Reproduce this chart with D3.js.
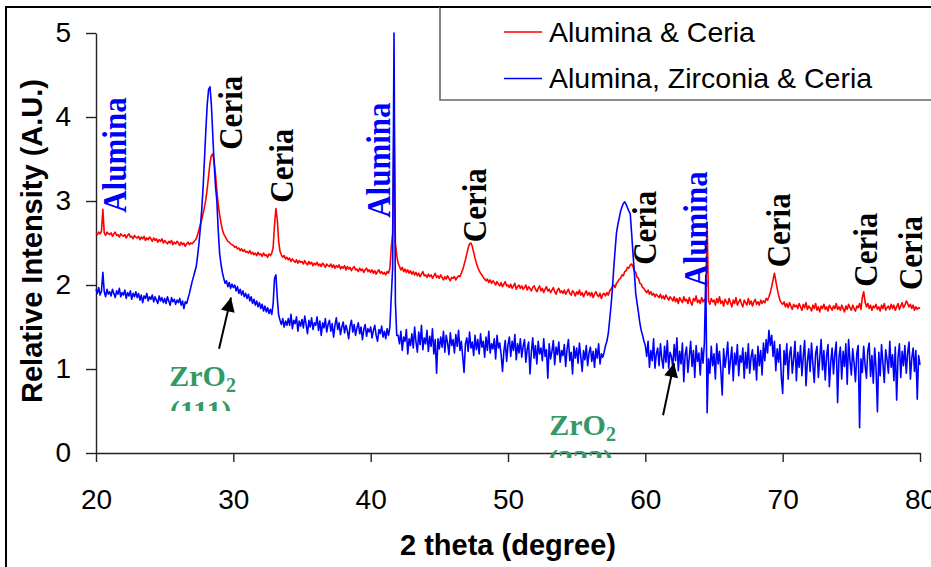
<!DOCTYPE html>
<html>
<head>
<meta charset="utf-8">
<script src="https://cdn.jsdelivr.net/npm/d3@7/dist/d3.min.js"></script>
<style>
  html, body { margin: 0; padding: 0; background: #fff; }
  svg { display: block; }
</style>
</head>
<body>
<svg id="chart" width="931" height="567"></svg>
<script>
// XRD scans, 2θ from 20° to 80° in 0.1° steps
const thetaStart = 20;
const thetaStep = 0.1;

const seriesNames = ["Alumina & Ceria", "Alumina, Zirconia & Ceria"];
const seriesColors = ["#ff0000", "#0000ff"];

// Alumina & Ceria
const aluminaCeria = [
  2.62, 2.60, 2.63, 2.61, 2.64, 2.90, 2.62, 2.59, 2.63, 2.61,
  2.60, 2.62, 2.58, 2.61, 2.63, 2.59, 2.60, 2.57, 2.61, 2.59,
  2.58, 2.60, 2.56, 2.59, 2.61, 2.57, 2.58, 2.55, 2.59, 2.57,
  2.56, 2.58, 2.54, 2.57, 2.55, 2.58, 2.53, 2.56, 2.54, 2.57,
  2.55, 2.52, 2.56, 2.53, 2.55, 2.51, 2.54, 2.52, 2.55, 2.50,
  2.53, 2.51, 2.49, 2.52, 2.50, 2.53, 2.48, 2.51, 2.49, 2.52,
  2.50, 2.47, 2.51, 2.48, 2.50, 2.46, 2.49, 2.51, 2.48, 2.50,
  2.49, 2.51, 2.53, 2.55, 2.60, 2.66, 2.72, 2.78, 2.85, 2.93,
  3.02, 3.15, 3.30, 3.45, 3.54, 3.56, 3.48, 3.32, 3.12, 2.96,
  2.84, 2.74, 2.66, 2.61, 2.58, 2.55, 2.52, 2.51, 2.49, 2.48,
  2.47, 2.45, 2.46, 2.43, 2.44, 2.41, 2.43, 2.40, 2.42, 2.39,
  2.40, 2.38, 2.41, 2.37, 2.39, 2.36, 2.38, 2.35, 2.39, 2.36,
  2.37, 2.34, 2.38, 2.35, 2.36, 2.33, 2.37, 2.35, 2.38, 2.45,
  2.72, 2.91, 2.78, 2.52, 2.40, 2.36, 2.33, 2.35, 2.31, 2.33,
  2.30, 2.32, 2.28, 2.31, 2.29, 2.27, 2.30, 2.26, 2.29, 2.27,
  2.28, 2.25, 2.29, 2.26, 2.24, 2.28, 2.25, 2.27, 2.23, 2.26,
  2.24, 2.27, 2.23, 2.25, 2.22, 2.26, 2.24, 2.21, 2.25, 2.23,
  2.22, 2.25, 2.21, 2.24, 2.20, 2.23, 2.21, 2.24, 2.19, 2.22,
  2.20, 2.23, 2.18, 2.22, 2.19, 2.21, 2.17, 2.20, 2.22, 2.18,
  2.19, 2.16, 2.20, 2.17, 2.19, 2.15, 2.18, 2.20, 2.16, 2.18,
  2.15, 2.18, 2.14, 2.17, 2.13, 2.16, 2.18, 2.14, 2.16, 2.13,
  2.15, 2.12, 2.16, 2.14, 2.20, 2.45, 2.62, 4.02, 2.50, 2.35,
  2.26, 2.22, 2.18, 2.21, 2.16, 2.19, 2.15, 2.18, 2.14, 2.17,
  2.13, 2.16, 2.12, 2.15, 2.11, 2.14, 2.10, 2.13, 2.16, 2.11,
  2.12, 2.09, 2.13, 2.10, 2.12, 2.08, 2.11, 2.14, 2.09, 2.11,
  2.08, 2.12, 2.09, 2.06, 2.10, 2.07, 2.11, 2.08, 2.05, 2.09,
  2.08, 2.10, 2.06, 2.09, 2.11, 2.10, 2.14, 2.18, 2.24, 2.30,
  2.37, 2.44, 2.49, 2.50, 2.46, 2.39, 2.32, 2.26, 2.21, 2.17,
  2.14, 2.12, 2.09, 2.07, 2.05, 2.07, 2.03, 2.06, 2.02, 2.05,
  2.03, 2.00, 2.04, 2.01, 1.99, 2.03, 1.98, 2.01, 2.04, 1.99,
  2.00, 1.97, 2.01, 1.96, 1.99, 2.02, 1.95, 1.98, 2.00, 1.96,
  1.99, 1.95, 1.97, 2.00, 1.94, 1.98, 1.96, 1.93, 1.97, 1.99,
  1.95, 1.92, 1.96, 1.99, 1.93, 1.96, 1.91, 1.95, 1.98, 1.93,
  1.95, 1.91, 1.94, 1.97, 1.92, 1.89, 1.94, 1.96, 1.91, 1.93,
  1.90, 1.94, 1.89, 1.92, 1.95, 1.90, 1.88, 1.93, 1.91, 1.87,
  1.92, 1.89, 1.94, 1.88, 1.91, 1.86, 1.90, 1.93, 1.88, 1.91,
  1.87, 1.91, 1.85, 1.89, 1.92, 1.88, 1.86, 1.90, 1.84, 1.89,
  1.90, 1.87, 1.91, 1.88, 1.93, 1.95, 1.98, 2.00, 1.97, 2.02,
  2.04, 2.07, 2.08, 2.12, 2.11, 2.16, 2.17, 2.21, 2.20, 2.24,
  2.25, 2.22, 2.17, 2.15, 2.09, 2.08, 2.02, 2.01, 1.97, 1.96,
  1.93, 1.91, 1.94, 1.89, 1.92, 1.88, 1.90, 1.86, 1.89, 1.87,
  1.85, 1.89, 1.84, 1.87, 1.83, 1.88, 1.85, 1.82, 1.86, 1.84,
  1.81, 1.86, 1.80, 1.84, 1.78, 1.85, 1.82, 1.79, 1.86, 1.81,
  1.83, 1.78, 1.85, 1.80, 1.76, 1.84, 1.81, 1.87, 1.79, 1.82,
  1.78, 1.85, 1.80, 1.83, 1.79, 2.75, 1.81, 1.77, 1.84, 1.80,
  1.82, 1.76, 1.84, 1.79, 1.86, 1.78, 1.81, 1.75, 1.83, 1.80,
  1.77, 1.84, 1.79, 1.74, 1.82, 1.78, 1.85, 1.76, 1.80, 1.83,
  1.78, 1.74, 1.82, 1.79, 1.76, 1.84, 1.77, 1.81, 1.75, 1.80,
  1.83, 1.77, 1.80, 1.76, 1.82, 1.78, 1.81, 1.79, 1.84, 1.82,
  1.86, 1.91, 1.98, 2.06, 2.14, 2.05, 1.96, 1.88, 1.82, 1.79,
  1.77, 1.80, 1.74, 1.78, 1.73, 1.79, 1.75, 1.71, 1.77, 1.74,
  1.76, 1.72, 1.78, 1.74, 1.70, 1.77, 1.73, 1.79, 1.71, 1.75,
  1.73, 1.69, 1.76, 1.72, 1.78, 1.70, 1.74, 1.68, 1.75, 1.72,
  1.77, 1.71, 1.74, 1.69, 1.76, 1.73, 1.70, 1.75, 1.72, 1.78,
  1.71, 1.74, 1.70, 1.76, 1.72, 1.68, 1.75, 1.71, 1.77, 1.73,
  1.70, 1.76, 1.72, 1.69, 1.75, 1.73, 1.78, 1.71, 1.85, 1.92,
  1.80, 1.74, 1.78, 1.72, 1.76, 1.70, 1.75, 1.73, 1.77, 1.71,
  1.74, 1.69, 1.76, 1.72, 1.78, 1.70, 1.73, 1.75, 1.71, 1.77,
  1.72, 1.76, 1.70, 1.74, 1.78, 1.71, 1.75, 1.79, 1.73, 1.76,
  1.81, 1.78, 1.74, 1.77, 1.72, 1.76, 1.70, 1.74, 1.71, 1.73,
  1.72
];

// Alumina, Zirconia & Ceria
const aluminaZirconiaCeria = [
  1.95, 1.90, 1.97, 1.88, 1.93, 2.15, 1.92, 1.86, 1.95, 1.89,
  1.92, 1.87, 1.95, 1.90, 1.85, 1.93, 1.89, 1.96, 1.86, 1.91,
  1.88, 1.94, 1.84, 1.91, 1.87, 1.93, 1.83, 1.90, 1.86, 1.92,
  1.85, 1.90, 1.82, 1.88, 1.79, 1.87, 1.84, 1.90, 1.81, 1.86,
  1.83, 1.88, 1.80, 1.86, 1.82, 1.78, 1.87, 1.81, 1.85, 1.79,
  1.84, 1.78, 1.86, 1.81, 1.76, 1.85, 1.80, 1.83, 1.77, 1.82,
  1.79, 1.84, 1.76, 1.81, 1.72, 1.80, 1.78, 1.84, 1.90, 1.97,
  2.04, 2.10, 2.16, 2.22, 2.35, 2.50, 2.68, 2.90, 3.17, 3.50,
  3.85, 4.15, 4.33, 4.36, 4.15, 3.80, 3.45, 3.18, 3.00, 2.65,
  2.38, 2.25, 2.15, 2.08, 2.02, 2.05, 1.98, 2.03, 1.96, 2.01,
  1.97, 2.00, 1.93, 1.98, 1.90, 1.95, 1.88, 1.93, 1.86, 1.90,
  1.84, 1.89, 1.81, 1.86, 1.78, 1.83, 1.76, 1.81, 1.74, 1.79,
  1.72, 1.77, 1.69, 1.75, 1.68, 1.73, 1.66, 1.71, 1.65, 1.78,
  2.08, 2.12, 1.85, 1.64, 1.58, 1.53, 1.60, 1.50, 1.57, 1.52,
  1.60, 1.52, 1.65, 1.48, 1.58, 1.54, 1.62, 1.45, 1.57, 1.51,
  1.59, 1.49, 1.63, 1.53, 1.42, 1.58, 1.50, 1.61, 1.47, 1.55,
  1.52, 1.62, 1.46, 1.57, 1.40, 1.55, 1.49, 1.60, 1.44, 1.53,
  1.58, 1.45, 1.54, 1.38, 1.52, 1.61, 1.47, 1.55, 1.41, 1.50,
  1.56, 1.43, 1.52, 1.46, 1.36, 1.51, 1.58, 1.44, 1.53, 1.40,
  1.49, 1.55, 1.42, 1.50, 1.35, 1.47, 1.53, 1.39, 1.48, 1.44,
  1.50, 1.37, 1.46, 1.52, 1.40, 1.33, 1.47, 1.42, 1.51, 1.38,
  1.45, 1.36, 1.48, 1.40, 1.50, 1.86, 2.20, 5.00, 1.80, 1.40,
  1.40, 1.30, 1.45, 1.22, 1.38, 1.33, 1.47, 1.18, 1.36, 1.28,
  1.42, 1.25, 1.50, 1.32, 1.20, 1.44, 1.29, 1.52, 1.23, 1.37,
  1.30, 1.46, 1.21, 1.39, 1.27, 1.48, 1.18, 1.35, 0.95, 1.36,
  1.24, 1.38, 1.26, 1.45, 1.20, 1.40, 1.31, 1.17, 1.43, 1.28,
  1.35, 1.19, 1.41, 1.27, 1.46, 1.22, 1.33, 1.15, 0.96, 1.30,
  1.37, 1.21, 1.44, 1.25, 1.32, 1.16, 1.40, 1.23, 1.35, 1.18,
  1.42, 1.26, 1.33, 1.14, 1.38, 1.22, 1.45, 1.19, 1.30, 1.24,
  1.36, 1.12, 1.40, 1.25, 1.31, 1.17, 0.97, 1.21, 1.34, 1.09,
  1.29, 1.38, 1.15, 1.33, 1.22, 1.41, 1.11, 1.30, 1.19, 1.36,
  1.14, 1.27, 1.35, 1.08, 1.24, 1.32, 0.94, 1.20, 1.37, 1.13,
  1.28, 1.06, 1.33, 1.18, 1.25, 1.10, 1.36, 1.15, 1.23, 0.89,
  1.30, 1.12, 1.21, 1.34, 1.05, 1.26, 1.17, 1.32, 1.08, 1.22,
  1.16, 1.29, 1.03, 1.24, 1.35, 1.10, 1.20, 0.94, 1.27, 1.13,
  1.25, 1.07, 1.31, 1.15, 0.97, 1.22, 1.11, 1.28, 1.04, 1.19,
  1.26, 1.09, 1.21, 1.02, 1.24, 1.13, 1.30, 1.06, 1.18, 1.14,
  1.20, 1.28, 1.33, 1.42, 1.58, 1.75, 1.95, 2.20, 2.42, 2.62,
  2.72, 2.80, 2.88, 2.93, 2.97, 2.99, 2.96, 2.92, 2.88, 2.85,
  2.62, 2.38, 2.15, 1.90, 1.78, 1.67, 1.55, 1.46, 1.40, 1.33,
  1.28, 1.15, 1.33, 1.02, 1.22, 1.10, 1.36, 1.01, 1.18, 1.25,
  1.04, 1.30, 1.12, 1.01, 1.27, 1.08, 1.34, 1.01, 1.20, 1.15,
  1.02, 1.29, 1.10, 1.37, 0.98, 1.21, 1.06, 1.31, 0.85, 1.17,
  1.26, 0.96, 1.14, 1.33, 1.03, 1.22, 0.90, 1.28, 1.09, 1.19,
  0.93, 1.25, 1.07, 1.31, 2.12, 0.48, 1.12, 0.95, 1.27, 1.04,
  1.18, 0.88, 1.30, 1.06, 1.21, 0.97, 0.69, 1.24, 1.02, 1.15,
  1.32, 0.94, 1.11, 1.26, 0.86, 1.19, 1.05, 1.29, 0.92, 1.16,
  1.08, 1.25, 0.89, 1.20, 1.01, 1.30, 0.95, 1.14, 1.23, 0.99,
  1.17, 0.87, 1.27, 1.04, 1.22, 0.93, 1.31, 1.10, 1.35, 1.19,
  1.46, 1.28, 1.40, 1.15, 1.33, 0.98, 1.24, 1.08, 1.29, 0.91,
  0.71, 1.22, 1.05, 1.30, 0.88, 1.17, 1.26, 0.95, 1.12, 1.33,
  0.86, 1.20, 1.02, 1.28, 0.92, 1.15, 1.34, 0.80, 1.09, 1.24,
  0.97, 1.31, 1.06, 0.84, 1.19, 1.27, 0.90, 1.13, 1.35, 0.99,
  1.22, 0.87, 1.16, 1.29, 0.79, 1.08, 1.25, 0.94, 1.18, 1.32,
  0.60, 1.14, 1.26, 0.88, 1.21, 1.03, 1.30, 0.82, 1.35, 1.10,
  0.93, 1.24, 1.07, 0.85, 1.19, 1.28, 0.30, 1.12, 0.96, 1.27,
  1.05, 0.89, 1.22, 1.31, 0.91, 1.16, 0.83, 1.25, 1.01, 0.49,
  1.20, 0.92, 1.29, 1.07, 0.84, 1.23, 1.11, 0.95, 1.33, 1.02,
  1.17, 0.86, 1.26, 0.63, 1.14, 1.30, 0.90, 1.21, 1.04, 1.28,
  0.95, 1.19, 1.32, 0.88, 1.13, 1.25, 0.97, 1.22, 0.64, 1.16,
  1.05
];

const xTicks = [20, 30, 40, 50, 60, 70, 80];
const yTicks = [0, 1, 2, 3, 4, 5];
const xTitle = "2 theta (degree)";
const yTitle = "Relative Intensity (A.U.)";

// Phase labels: text, colour, 2θ of the label baseline, intensity where the text starts
const phaseLabels = ["Alumina", "Ceria", "Ceria", "Alumina", "Ceria", "Ceria", "Alumina", "Ceria", "Ceria", "Ceria"];
const phaseColors = ["#0000ff", "#000", "#000", "#0000ff", "#000", "#000", "#0000ff", "#000", "#000", "#000"];
const phaseTheta = [22.18, 30.63, 34.35, 41.41, 48.40, 60.78, 64.49, 70.53, 76.87, 80.15];
const phaseLevel = [2.86, 3.61, 2.98, 2.80, 2.51, 2.24, 1.98, 2.21, 1.98, 1.94];

// Zirconia reflections with arrows pointing at the blue trace
const zrPlanes = ["(111)", "(222)"];
const zrTheta = [27.76, 55.43];
const zrLevel = [0.80, 0.21];
const arrowFrom = [[28.96, 1.24], [61.29, 0.45]];
const arrowTo = [[29.83, 1.85], [62.09, 1.07]];

const svg = d3.select("#chart");
const W = 931, H = 567;
const plot = { left: 96, right: 920, top: 33, bottom: 453 };

const x = d3.scaleLinear().domain([20, 80]).range([plot.left, plot.right]);
const y = d3.scaleLinear().domain([0, 5]).range([plot.bottom, plot.top]);

svg.append("rect").attr("width", W).attr("height", H).attr("fill", "#fff");

// outer chart frame (left and top edges)
svg.append("path")
  .attr("d", `M6,${H} V7 H${W}`)
  .attr("fill", "none").attr("stroke", "#000").attr("stroke-width", 2);

// axes
const axisFont = '"Liberation Sans", Arial, sans-serif';
const gx = svg.append("g")
  .attr("transform", `translate(0,${plot.bottom})`)
  .call(d3.axisBottom(x).tickValues(xTicks).tickFormat(d3.format("d"))
    .tickSize(9).tickPadding(27).tickSizeOuter(0));
const gy = svg.append("g")
  .attr("transform", `translate(${plot.left},0)`)
  .call(d3.axisLeft(y).tickValues(yTicks).tickFormat(d3.format("d"))
    .tickSize(10).tickPadding(15).tickSizeOuter(0));
[gx, gy].forEach(g => {
  g.attr("font-size", 28).attr("font-family", axisFont);
  g.select(".domain").attr("stroke", "#222").attr("stroke-width", 1.4);
  g.selectAll(".tick line").attr("stroke", "#222").attr("stroke-width", 1.4);
  g.selectAll(".tick text").attr("fill", "#000");
});

svg.append("text")
  .attr("x", (plot.left + plot.right) / 2).attr("y", 555)
  .attr("text-anchor", "middle")
  .attr("font-family", axisFont).attr("font-weight", "bold").attr("font-size", 29)
  .text(xTitle);
svg.append("text")
  .attr("transform", `translate(42,${(plot.top + plot.bottom) / 2 - 2}) rotate(-90)`)
  .attr("text-anchor", "middle")
  .attr("font-family", axisFont).attr("font-weight", "bold").attr("font-size", 29)
  .text(yTitle);

// traces
const line = d3.line()
  .x((d, i) => x(thetaStart + i * thetaStep))
  .y(d => y(d));
[aluminaCeria, aluminaZirconiaCeria].forEach((s, k) => {
  svg.append("path")
    .datum(s)
    .attr("d", line)
    .attr("fill", "none")
    .attr("stroke", seriesColors[k])
    .attr("stroke-width", 1.6)
    .attr("stroke-linejoin", "round");
});

// phase labels, rotated to read upward
const serif = '"Liberation Serif", "Times New Roman", serif';
phaseLabels.forEach((t, i) => {
  svg.append("text")
    .attr("transform", `translate(${x(phaseTheta[i])},${y(phaseLevel[i])}) rotate(-90) scale(1,1.12)`)
    .attr("font-family", serif).attr("font-weight", "bold").attr("font-size", 31)
    .attr("fill", phaseColors[i])
    .text(t);
});

// ZrO2 labels; the second line is cut off by its text box
const defs = svg.append("defs");
const zrClip = [411, 458];
zrPlanes.forEach((p, i) => {
  defs.append("clipPath").attr("id", "zrclip" + i)
    .append("rect").attr("x", 0).attr("y", 0).attr("width", W).attr("height", zrClip[i]);
  const cx = x(zrTheta[i]), by = y(zrLevel[i]);
  const g = svg.append("g").attr("clip-path", `url(#zrclip${i})`)
    .attr("font-family", serif).attr("font-weight", "bold").attr("fill", "#339966")
    .attr("text-anchor", "middle");
  const t1 = g.append("text").attr("x", cx).attr("y", by).attr("font-size", 30);
  t1.append("tspan").text("ZrO");
  t1.append("tspan").attr("font-size", 20).attr("dy", 6).text("2");
  g.append("text").attr("x", cx - 2).attr("y", by + 35).attr("font-size", 30).text(p);
});

// arrows
defs.append("marker").attr("id", "arrowhead")
  .attr("viewBox", "0 0 10 10").attr("refX", 10).attr("refY", 5)
  .attr("markerWidth", 16).attr("markerHeight", 14).attr("markerUnits", "userSpaceOnUse")
  .attr("orient", "auto")
  .append("path").attr("d", "M0,0 L10,5 L0,10 Z").attr("fill", "#000");
arrowFrom.forEach((a, i) => {
  svg.append("line")
    .attr("x1", x(a[0])).attr("y1", y(a[1]))
    .attr("x2", x(arrowTo[i][0])).attr("y2", y(arrowTo[i][1]))
    .attr("stroke", "#000").attr("stroke-width", 2)
    .attr("marker-end", "url(#arrowhead)");
});

// legend
const legend = svg.append("g");
legend.append("rect").attr("x", 440).attr("y", 7).attr("width", W - 440 + 5).attr("height", 93)
  .attr("fill", "#fff");
legend.append("path").attr("d", `M440,7 V100 H${W}`)
  .attr("fill", "none").attr("stroke", "#666").attr("stroke-width", 1.6);
legend.append("path").attr("d", `M440,7 H${W}`)
  .attr("stroke", "#000").attr("stroke-width", 2);
const legendY = [32, 78.5];
const legendBase = [42.3, 87.5];
seriesNames.forEach((n, k) => {
  legend.append("line")
    .attr("x1", 504).attr("x2", 542).attr("y1", legendY[k]).attr("y2", legendY[k])
    .attr("stroke", seriesColors[k]).attr("stroke-width", 1.6);
  legend.append("text")
    .attr("x", 549).attr("y", legendBase[k])
    .attr("font-family", axisFont).attr("font-size", 28.5).attr("fill", "#000")
    .text(n);
});
</script>
</body>
</html>
